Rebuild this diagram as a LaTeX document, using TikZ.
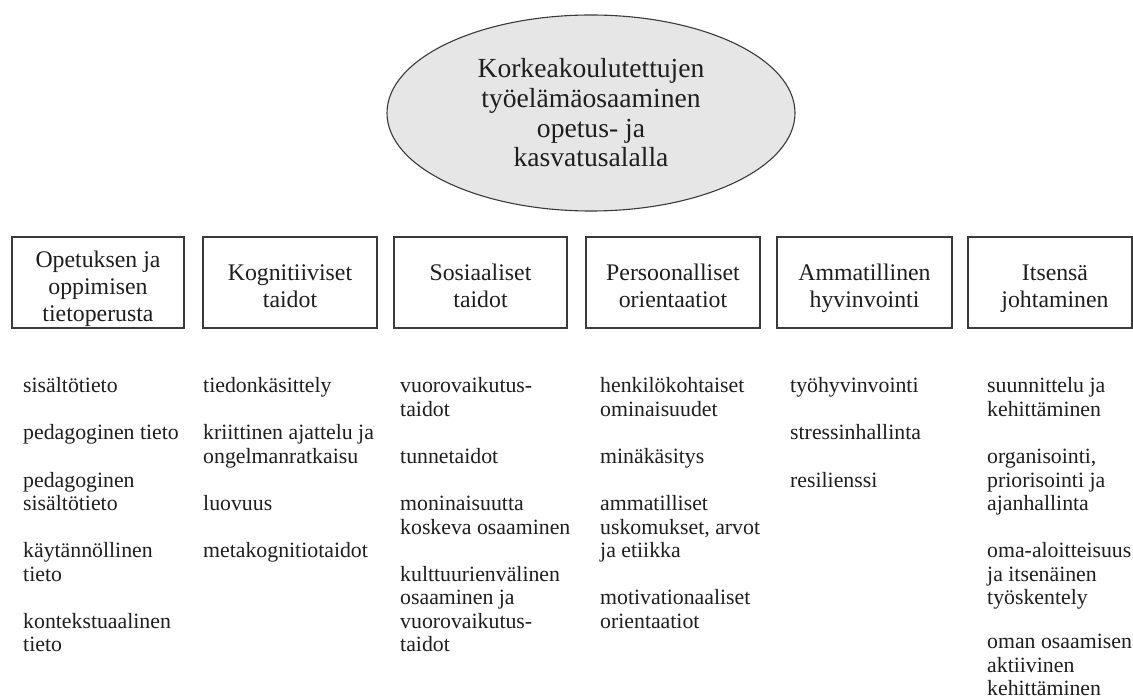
\documentclass[tikz,border=0pt]{standalone}
\usepackage{fontspec}
\setmainfont{Liberation Serif}
\usetikzlibrary{shapes.geometric}
\definecolor{ink}{HTML}{1E1E1E}
\definecolor{edge}{HTML}{3A3A3A}
\definecolor{ellfill}{HTML}{E6E6E6}
\tikzset{
  hub/.style={ellipse, draw=edge, fill=ellfill, line width=1.1pt, minimum width=408pt, minimum height=196pt, inner sep=0pt, align=center, text=ink, font=\fontsize{27.6}{29.7}\selectfont},
  catbox/.style={rectangle, draw=edge, line width=1.2pt, inner sep=0pt, minimum height=91pt},
  catlabel/.style={anchor=base, inner sep=0pt, align=center, text=ink, font=\fontsize{23.8}{27}\selectfont},
  item/.style={anchor=base west, inner sep=0pt, align=left, text=ink, font=\fontsize{21.8}{23.5}\selectfont},
}
\begin{document}
\begin{tikzpicture}[x=1pt,y=-1pt]
\useasboundingbox[fill=white] (0,0) rectangle (1133,700);
% central ellipse
\node[hub] (hub) at (591,113) {Korkeakoulutettujen\\työelämäosaaminen\\opetus- ja\\kasvatusalalla};
% category boxes
\node[catbox, minimum width=172pt] (b1) at (98,282.5) {};
\node[catbox, minimum width=174pt] (b2) at (290,282.5) {};
\node[catbox, minimum width=173pt] (b3) at (480.5,282.5) {};
\node[catbox, minimum width=174pt] (b4) at (673,282.5) {};
\node[catbox, minimum width=175pt] (b5) at (864.5,282.5) {};
\node[catbox, minimum width=164pt] (b6) at (1050,282.5) {};
% box labels (anchor = baseline of last line)
\node[catlabel] (l1) at (98,321.5) {Opetuksen ja\\oppimisen\\tietoperusta};
\node[catlabel] (l2) at (290,308) {Kognitiiviset\\taidot};
\node[catlabel] (l3) at (480.5,308) {Sosiaaliset\\taidot};
\node[catlabel] (l4) at (673,308) {Persoonalliset\\orientaatiot};
\node[catlabel] (l5) at (864.5,308) {Ammatillinen\\hyvinvointi};
\node[catlabel] (l6) at (1055,308) {Itsensä\\johtaminen};
% column 1
\node[item] (c1a) at (23,393) {sisältötieto};
\node[item] (c1b) at (23,440) {pedagoginen tieto};
\node[item] (c1c) at (23,510.5) {pedagoginen\\sisältötieto};
\node[item] (c1d) at (23,581) {käytännöllinen\\tieto};
\node[item] (c1e) at (23,651.5) {kontekstuaalinen\\tieto};
% column 2
\node[item] (c2a) at (203,393) {tiedonkäsittely};
\node[item] (c2b) at (203,463.5) {kriittinen ajattelu ja\\ongelmanratkaisu};
\node[item] (c2c) at (203,510.5) {luovuus};
\node[item] (c2d) at (203,557.5) {metakognitiotaidot};
% column 3
\node[item] (c3a) at (400,416.5) {vuorovaikutus-\\taidot};
\node[item] (c3b) at (400,463.5) {tunnetaidot};
\node[item] (c3c) at (400,534) {moninaisuutta\\koskeva osaaminen};
\node[item] (c3d) at (400,651.5) {kulttuurienvälinen\\osaaminen ja\\vuorovaikutus-\\taidot};
% column 4
\node[item] (c4a) at (600,416.5) {henkilökohtaiset\\ominaisuudet};
\node[item] (c4b) at (600,463.5) {minäkäsitys};
\node[item] (c4c) at (600,557.5) {ammatilliset\\uskomukset, arvot\\ja etiikka};
\node[item] (c4d) at (600,628) {motivationaaliset\\orientaatiot};
% column 5
\node[item] (c5a) at (790,393) {työhyvinvointi};
\node[item] (c5b) at (790,440) {stressinhallinta};
\node[item] (c5c) at (790,487) {resilienssi};
% column 6
\node[item] (c6a) at (987,416.5) {suunnittelu ja\\kehittäminen};
\node[item] (c6b) at (987,510.5) {organisointi,\\priorisointi ja\\ajanhallinta};
\node[item] (c6c) at (987,604.5) {oma-aloitteisuus\\ja itsenäinen\\työskentely};
\node[item] (c6d) at (987,695.5) {oman osaamisen\\aktiivinen\\kehittäminen};
\end{tikzpicture}
\end{document}
